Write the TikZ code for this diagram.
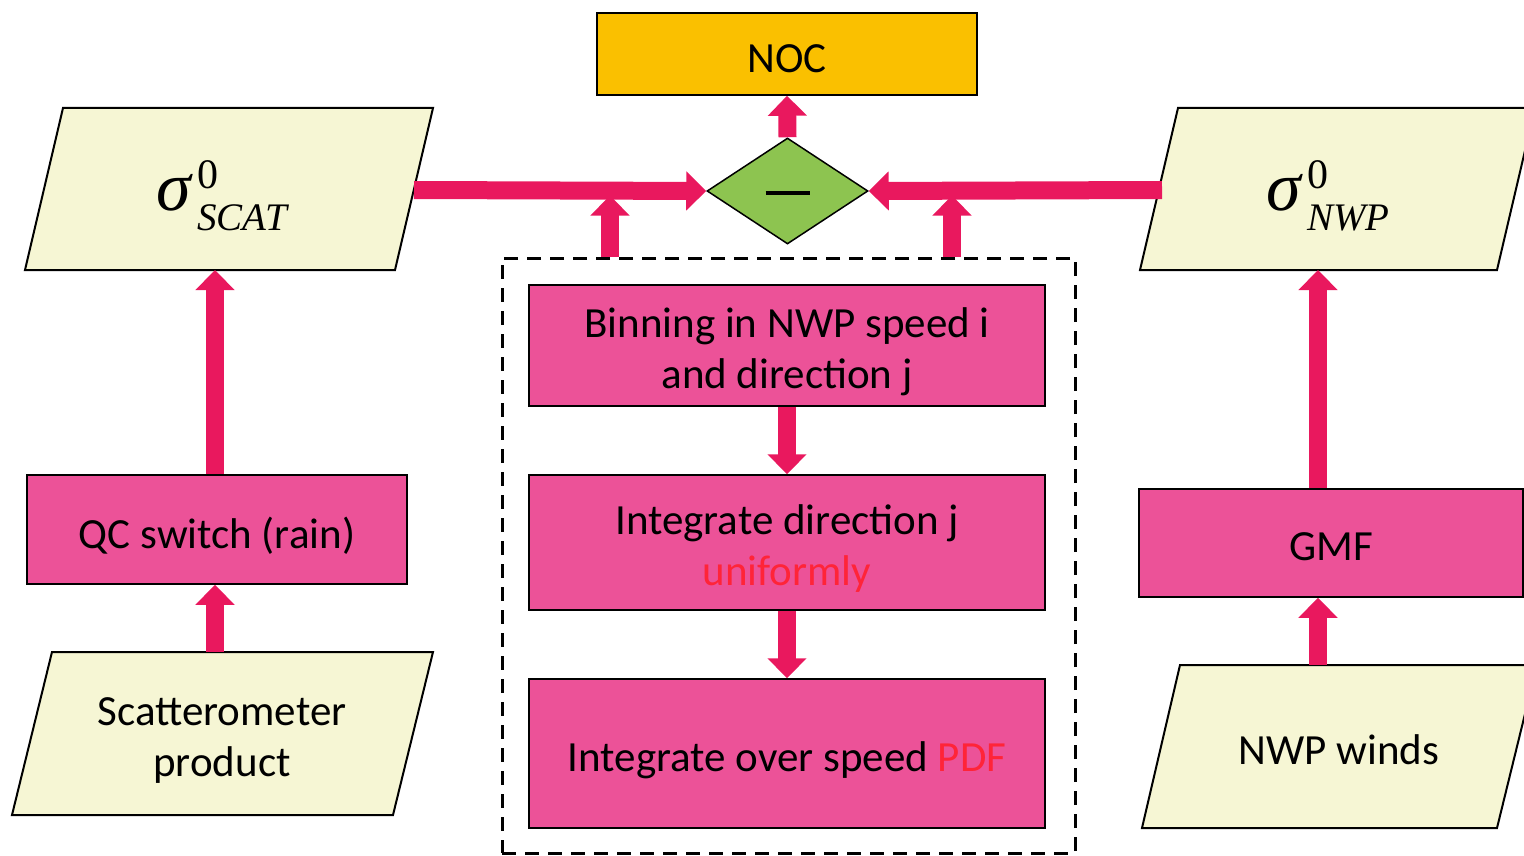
\documentclass[tikz,border=0pt]{standalone}
\usepackage[no-math]{fontspec}
\setmainfont{Carlito}
\newfontfamily\tms{Liberation Serif}
\usetikzlibrary{arrows.meta,shapes.geometric}
\definecolor{boxpink}{RGB}{236,82,152}
\definecolor{arrowpink}{RGB}{233,24,94}
\definecolor{textred}{RGB}{255,36,56}
\definecolor{paleyellow}{RGB}{246,246,212}
\definecolor{nocorange}{RGB}{250,192,0}
\definecolor{diamgreen}{RGB}{141,196,80}
\newcommand{\sigmalbl}[1]{{\tms\fontsize{70}{70}\selectfont\itshape σ}\kern6pt\raisebox{-20pt}{\rlap{\raisebox{42pt}{\tms\fontsize{42}{42}\selectfont 0}}{\tms\itshape\fontsize{39}{39}\selectfont #1}}}
\begin{document}
\begin{tikzpicture}[x=1pt,y=-1pt,
  lbl/.style={font=\fontsize{43}{51}\selectfont, align=center, text=black, inner sep=0pt},
  pinkbox/.style={draw=black, line width=1.5pt, fill=boxpink, inner sep=0pt},
  para/.style={draw=black, line width=2pt, fill=paleyellow},
  conn/.style={draw=arrowpink, line width=18pt, -{Triangle[length=20pt,width=38pt]}},
]
\useasboundingbox (0,0) rectangle (1524,856);

% parallelograms (data)
\draw[para] (25,270) -- (395,270) -- (433,108) -- (63,108) -- cycle;
\draw[para] (1140,270) -- (1497,270) -- (1535,108) -- (1178,108) -- cycle;
\draw[para] (12,815) -- (393,815) -- (433,652) -- (52,652) -- cycle;
\draw[para] (1142,828) -- (1497,828) -- (1537,665) -- (1180,665) -- cycle;

\node[inner sep=0pt] (scat) at (222,196) {\sigmalbl{SCAT}};
\node[inner sep=0pt] (nwp) at (1328,196) {\sigmalbl{NWP}};
\node[lbl] (prod) at (222,741) {Scatterometer\\product};
\node[lbl] (winds) at (1339,750) {NWP winds};

% process boxes
\node[pinkbox, minimum width=380pt, minimum height=109pt] (qc) at (217,529.5) {};
\node[lbl] (qcT) at ([yshift=-6pt]qc.center) {QC switch (rain)};
\node[pinkbox, minimum width=384pt, minimum height=108pt] (gmf) at (1331,543) {};
\node[lbl] (gmfT) at ([yshift=-4pt]gmf.center) {GMF};
\node[pinkbox, minimum width=516pt, minimum height=121pt] (bin) at (787,345.5) {};
\node[lbl] (binT) at ([yshift=-6pt]bin.center) {Binning in NWP speed i\\and direction j};
\node[pinkbox, minimum width=516pt, minimum height=135pt] (idir) at (787,542.5) {};
\node[lbl] (idirT) at ([yshift=-6pt]idir.center) {Integrate direction j\\{\color{textred}uniformly}};
\node[pinkbox, minimum width=516pt, minimum height=149pt] (ispd) at (787,753.5) {};
\node[lbl] (ispdT) at ([yshift=-7pt]ispd.center) {Integrate over speed {\color{textred}PDF}};

% NOC and difference
\node[draw=black, line width=1.5pt, fill=nocorange, minimum width=380pt, minimum height=82pt, inner sep=0pt] (noc) at (787,54) {};
\node[lbl] (nocT) at ([yshift=-5pt]noc.center) {NOC};
\node[draw=black, line width=1.5pt, fill=diamgreen, shape=diamond, minimum width=161pt, minimum height=106pt, inner sep=0pt, aspect=1.5] (diff) at (787.5,191) {\rule[-8pt]{44pt}{4pt}};

% dashed group
\node[draw=black, line width=3pt, dash pattern=on 14pt off 9pt, minimum width=573pt, minimum height=595pt, inner sep=0pt] (grp) at (788.5,555.5) {};

% connectors
\coordinate (scatR) at (414,190);
\coordinate (nwpL) at (1162,190);
\draw[conn] (scatR) -- (diff.west);
\draw[conn] (nwpL) -- (diff.east);
\draw[conn] (diff.north) -- (noc.south);
\draw[conn] ([xshift=-178.5pt]grp.north) -- ++(0,-61);
\draw[conn] ([xshift=163.5pt]grp.north) -- ++(0,-61);
\draw[conn] (bin.south) -- (idir.north);
\draw[conn] (idir.south) -- (ispd.north);
\coordinate (scatB) at (215,270);
\coordinate (prodT) at (215,652);
\draw[conn] (prodT) -- (prodT |- qc.south);
\draw[conn] (scatB |- qc.north) -- (scatB);
\coordinate (nwpB) at (1318,270);
\coordinate (windsT) at (1318,665);
\draw[conn] (windsT) -- (windsT |- gmf.south);
\draw[conn] (nwpB |- gmf.north) -- (nwpB);
\end{tikzpicture}
\end{document}
